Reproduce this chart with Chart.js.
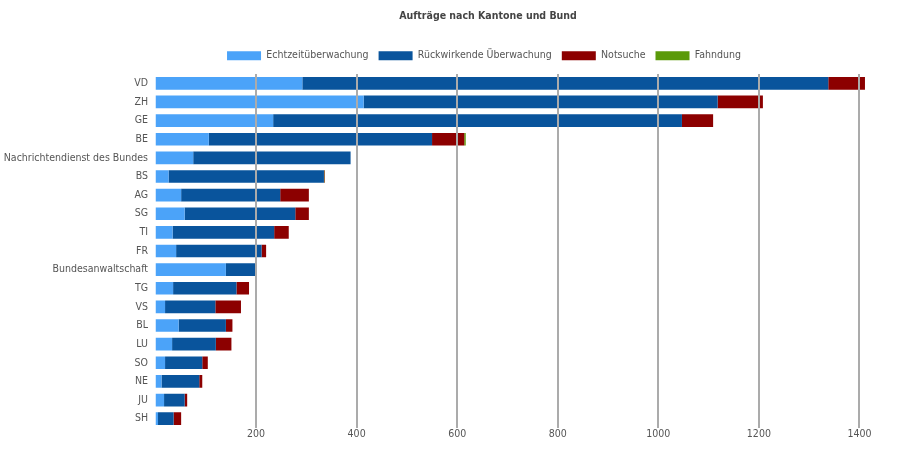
<!DOCTYPE html>
<html>
<head>
<meta charset="utf-8">
<script src="https://cdn.jsdelivr.net/npm/chart.js@4"></script>
<style>
  html, body { margin: 0; padding: 0; background: #ffffff; }
  canvas { display: block; }
</style>
</head>
<body>
<canvas id="c" width="900" height="450"></canvas>
<script>
const categories = ['VD', 'ZH', 'GE', 'BE', 'Nachrichtendienst des Bundes', 'BS', 'AG', 'SG', 'TI', 'FR',
  'Bundesanwaltschaft', 'TG', 'VS', 'BL', 'LU', 'SO', 'NE', 'JU', 'SH'];
const echtzeitueberwachung = [292, 414, 234, 106, 75, 26, 51, 58, 34, 41, 140, 35, 19, 46, 33, 19, 12, 17, 5];
const rueckwirkendeUeberwachung = [1046, 704, 813, 444, 313, 309, 197, 220, 202, 170, 59, 126, 100, 94, 87, 74, 75, 41, 31];
const notsuche = [73, 90, 62, 64, 0, 1, 57, 27, 29, 9, 0, 25, 51, 13, 31, 11, 6, 5, 15];
const fahndung = [0, 0, 0, 3, 0, 1, 0, 0, 0, 0, 0, 0, 0, 0, 0, 0, 0, 0, 0];
const seriesNames = ['Echtzeitüberwachung', 'Rückwirkende Überwachung', 'Notsuche', 'Fahndung'];
const xTickValues = [200, 400, 600, 800, 1000, 1200, 1400];

const FONT = '"Liberation Sans Narrow", "DejaVu Sans Condensed", "Arial Narrow", sans-serif';
const FS = 10.5;
const colors = ['#4ba3f9', '#09549c', '#8c0000', '#5b9a0a'];
const values = [echtzeitueberwachung, rueckwirkendeUeberwachung, notsuche, fahndung];

// shift the full-width title and legend boxes so they sit where the reference centres them
const shiftBoxes = {
  id: 'shiftBoxes',
  afterLayout(chart) {
    if (chart.titleBlock) { chart.titleBlock.left += 53; chart.titleBlock.right += 53; }
    if (chart.legend) { chart.legend.left += 49; chart.legend.right += 49; chart.legend.top -= 3; chart.legend.bottom -= 3; }
  }
};

new Chart(document.getElementById('c'), {
  type: 'bar',
  data: {
    labels: categories,
    datasets: seriesNames.map((name, i) => ({
      label: name,
      data: values[i],
      backgroundColor: colors[i],
      borderWidth: 0,
      barPercentage: 0.68,
      categoryPercentage: 1.0
    }))
  },
  plugins: [shiftBoxes],
  options: {
    indexAxis: 'y',
    responsive: false,
    animation: false,
    layout: { padding: { left: 0, right: 30, top: 0, bottom: 9.4 } },
    plugins: {
      title: {
        display: true,
        text: 'Aufträge nach Kantone und Bund',
        color: '#444444',
        font: { family: FONT, size: FS, weight: 'bold' },
        padding: { top: 10, bottom: 20.9 }
      },
      legend: {
        display: true,
        position: 'top',
        labels: {
          boxWidth: 34,
          boxHeight: 9,
          color: '#555555',
          font: { family: FONT, size: FS },
          padding: 10
        }
      },
      tooltip: { enabled: false }
    },
    scales: {
      x: {
        type: 'linear',
        stacked: true,
        min: 0,
        max: 1421,
        afterBuildTicks: (scale) => { scale.ticks = xTickValues.map(v => ({ value: v })); },
        ticks: {
          color: '#555555',
          font: { family: FONT, size: FS },
          padding: 0,
          maxRotation: 0,
          autoSkip: false,
          callback: (v) => String(v)
        },
        grid: { color: '#ababab', lineWidth: 2, drawTicks: false, z: 1 },
        border: { display: false }
      },
      y: {
        type: 'category',
        stacked: true,
        afterFit: (scale) => { scale.width = 155.5; },
        ticks: {
          color: '#555555',
          font: { family: FONT, size: FS },
          padding: 7.5,
          autoSkip: false
        },
        grid: { display: false, drawTicks: false },
        border: { display: false }
      }
    }
  }
});
</script>
</body>
</html>
